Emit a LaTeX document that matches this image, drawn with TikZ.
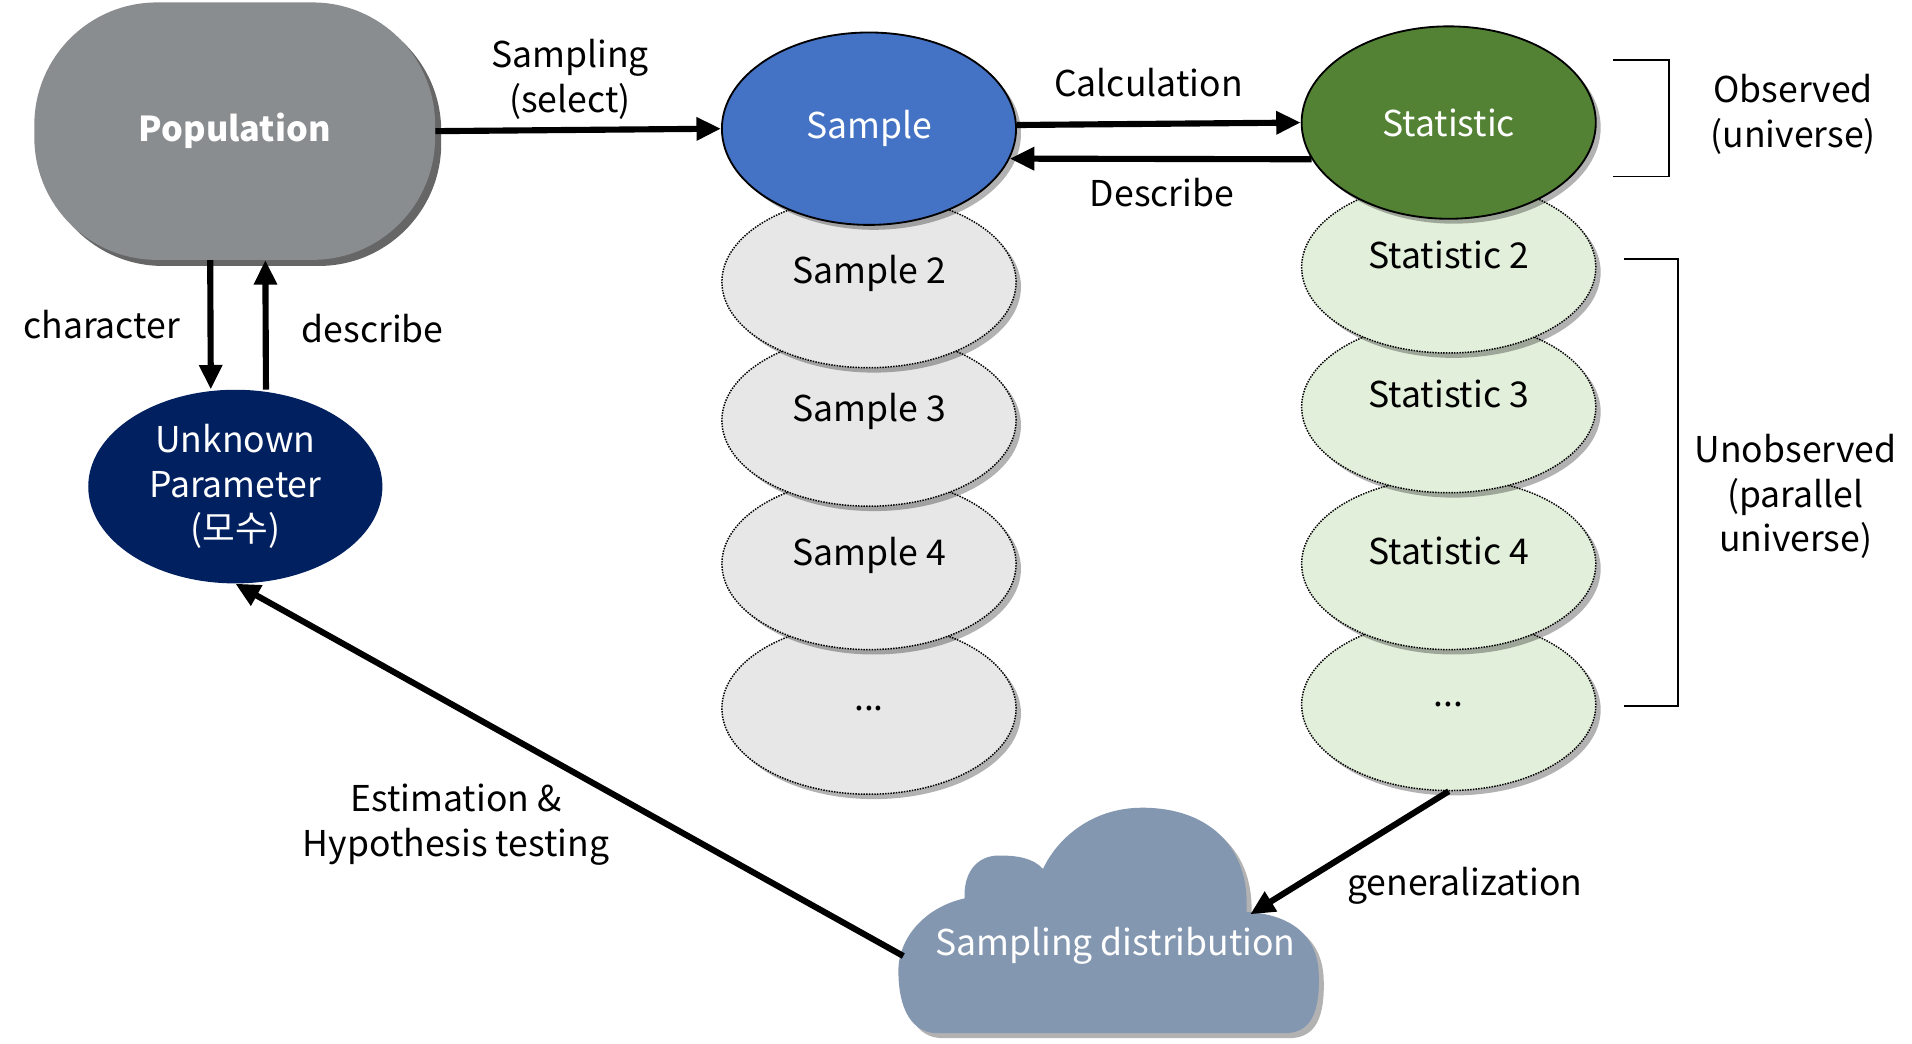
\documentclass[tikz,border=0pt]{standalone}
\usepackage{fontspec}
\setmainfont{Noto Sans CJK KR}
\usetikzlibrary{shadows,arrows.meta,calc,shapes.geometric}
\definecolor{popc}{HTML}{8A8D90}
\definecolor{bluec}{HTML}{4472C4}
\definecolor{greenc}{HTML}{548235}
\definecolor{navyc}{HTML}{002060}
\definecolor{lgrayc}{HTML}{E7E7E7}
\definecolor{lgreenc}{HTML}{E2EFDA}
\definecolor{cloudc}{HTML}{8497B0}
\tikzset{
  txt/.style={font=\fontsize{29}{36.5}\selectfont, align=center, inner sep=0pt},
  shd/.style={drop shadow={shadow xshift=4pt, shadow yshift=-4pt, opacity=0.3, fill=black}},
  popshd/.style={drop shadow={shadow xshift=5pt, shadow yshift=-5pt, opacity=0.6, fill=black}},
  ell/.style={ellipse, minimum width=240pt, inner sep=0pt, txt},
  mainell/.style={ell, minimum height=157pt, draw=black, line width=1.5pt, text=white, shd},
  dotell/.style={ell, minimum height=140pt, draw=black, line width=1.2pt, dash pattern=on 1.2pt off 1pt, shd},
  uptext/.style={text depth=21pt},
  arr/.style={line width=5pt, -{Triangle[length=20pt,width=18pt]}},
  brk/.style={line width=1.5pt},
}
\begin{document}
\begin{tikzpicture}[x=1pt,y=-1pt]
\useasboundingbox (0,0) rectangle (1560,851);
\fill[white] (0,0) rectangle (1560,851);

% Population
\fill[popc, popshd, rounded corners=100pt] (28,2) rectangle (355,212);
\node[txt, text=white, font=\fontsize{28}{34}\selectfont\bfseries, minimum width=327pt, minimum height=210pt] (pop) at (191.5,107) {Population};

% Sample column
\node[dotell, fill=lgrayc] (s5) at (709,578) {...};
\node[dotell, uptext, fill=lgrayc] (s4) at (709,460) {Sample 4};
\node[dotell, uptext, fill=lgrayc] (s3) at (709,343) {Sample 3};
\node[dotell, uptext, fill=lgrayc] (s2) at (709,230) {Sample 2};
\node[mainell, fill=bluec] (s1) at (709,105) {Sample};

% Statistic column
\node[dotell, fill=lgreenc] (t5) at (1182,575) {...};
\node[dotell, uptext, fill=lgreenc] (t4) at (1182,460) {Statistic 4};
\node[dotell, uptext, fill=lgreenc] (t3) at (1182,332) {Statistic 3};
\node[dotell, uptext, fill=lgreenc] (t2) at (1182,218) {Statistic 2};
\node[mainell, fill=greenc] (t1) at (1182,100) {Statistic};

% Unknown parameter
\node[ell, minimum height=158pt, fill=navyc, text=white] (param) at (192,397) {Unknown\\Parameter\\(모수)};

% Cloud
\fill[cloudc, shd] (765,843) -- (1048,843) .. controls (1070,843) and (1077,825) .. (1076,795)
  .. controls (1075,762) and (1052,746) .. (1017,744)
  .. controls (1020,690) and (985,659) .. (932,659)
  .. controls (890,659) and (862,685) .. (851,709)
  .. controls (843,700) and (830,698) .. (815,698)
  .. controls (797,698) and (786,712) .. (787,733)
  .. controls (755,740) and (733,765) .. (733,792)
  .. controls (733,825) and (745,843) .. (765,843) -- cycle;
\node[txt, text=white] (sd) at (910,772) {Sampling distribution};
\coordinate (sdL) at (737,780);
\coordinate (sdTR) at (1020,746);

% Labels
\node[txt] (lsamp) at (465,65) {Sampling\\(select)};
\node[txt] (lcalc) at (937,67) {Calculation};
\node[txt] (ldesc) at (948,157) {Describe};
\node[txt] (lchar) at (83,265) {character};
\node[txt] (ldesc2) at (304,268) {describe};
\node[txt] (lest) at (372,673) {Estimation \&\\Hypothesis testing};
\node[txt] (lgen) at (1195,723) {generalization};
\node[txt] (lobs) at (1463,93) {Observed\\(universe)};
\node[txt] (lunobs) at (1465,405) {Unobserved\\(parallel\\universe)};

% Arrows
\draw[arr] (pop.east) -- (s1.west);
\draw[arr] ([yshift=3pt]s1.east) -- (t1.west);
\draw[arr] (t1.195) -- (s1.-12);
\draw[arr] ([xshift=-20pt]pop.south) -- ([xshift=-20pt]param.north);
\draw[arr] ([xshift=25pt]param.north) -- ([xshift=25pt]pop.south);
\draw[arr] (sdL) -- (param.south);
\draw[arr] (t5.south) -- (sdTR);

% Brackets
\draw[brk] (1316,49) -- (1362,49) -- (1362,144) -- (1316,144);
\draw[brk] (1325,211) -- (1369,211) -- (1369,576) -- (1325,576);
\end{tikzpicture}
\end{document}
